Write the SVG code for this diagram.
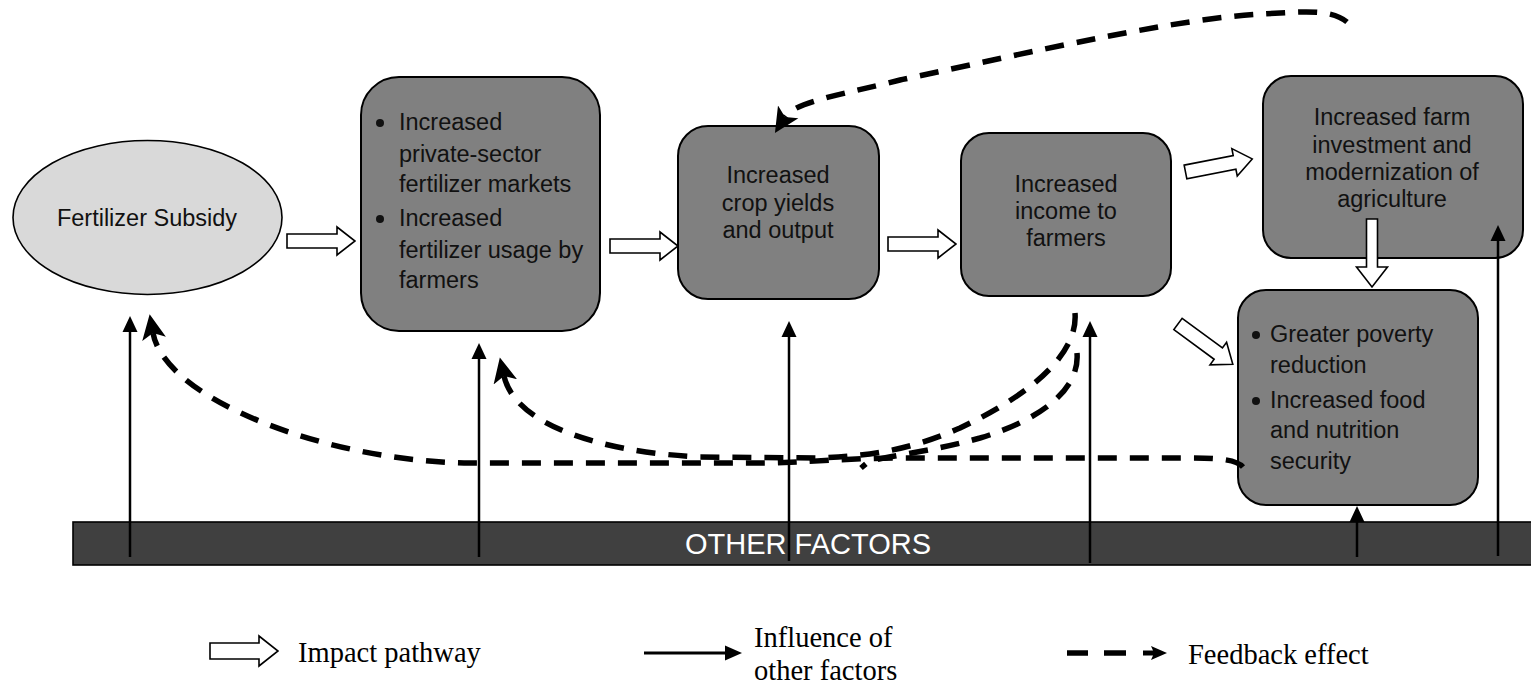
<svg xmlns="http://www.w3.org/2000/svg" xmlns:xlink="http://www.w3.org/1999/xlink" width="1531" height="686" viewBox="0 0 1531 686">
<style>
.box{fill:#808080;stroke:#000;stroke-width:2}
.t{font-family:"Liberation Sans",Arial,sans-serif;font-size:23.5px;fill:#111}
.c{text-anchor:middle}
.blk{fill:#fff;stroke:#000;stroke-width:1.6;stroke-linejoin:miter}
.fb{fill:none;stroke:#000;stroke-width:5.5;stroke-dasharray:19 13}
.inf{fill:none;stroke:#000;stroke-width:2.5}
.leg{font-family:"Liberation Serif","Times New Roman",serif;font-size:28.5px;fill:#000}
</style>
<defs>
<path id="harrow" d="M0,-7 L50,-7 L50,-14 L68,0 L50,14 L50,7 L0,7 Z"/>
<marker id="fbh" markerUnits="userSpaceOnUse" viewBox="0 -13 26 26" markerWidth="26" markerHeight="26" refX="6" refY="0" orient="auto">
<path d="M0,-12 L25,0 L0,12 L6,0 Z" fill="#000"/>
</marker>
<marker id="ih" markerUnits="userSpaceOnUse" viewBox="0 -8 16 16" markerWidth="16" markerHeight="16" refX="6" refY="0" orient="auto">
<path d="M0,-7.5 L16,0 L0,7.5 Z" fill="#000"/>
</marker>
</defs>
<rect width="1531" height="686" fill="#fff"/>

<g id="other-factors">
<rect x="73" y="522" width="1470" height="43" fill="#404040" stroke="#000" stroke-width="1.6"/>
<text x="808" y="554" font-family="Liberation Sans,Arial,sans-serif" font-size="29" fill="#fff" text-anchor="middle">OTHER FACTORS</text>
</g>

<g id="fertilizer-subsidy">
<ellipse cx="147.5" cy="217.5" rx="134.5" ry="77" fill="#d9d9d9" stroke="#000" stroke-width="1.6"/>
<text class="t c" x="147" y="226">Fertilizer Subsidy</text>
</g>

<g id="markets-usage">
<rect class="box" x="361" y="77" width="239" height="254" rx="38" ry="38"/>
<circle cx="380" cy="123" r="4" fill="#111"/>
<circle cx="380" cy="219" r="4" fill="#111"/>
<text class="t" x="399" y="130">Increased</text>
<text class="t" x="399" y="162">private-sector</text>
<text class="t" x="399" y="192">fertilizer markets</text>
<text class="t" x="399" y="226">Increased</text>
<text class="t" x="399" y="258">fertilizer usage by</text>
<text class="t" x="399" y="288">farmers</text>
</g>

<g id="crop-yields">
<rect class="box" x="678" y="126" width="201" height="173" rx="30" ry="30"/>
<text class="t c" x="778" y="183">Increased</text>
<text class="t c" x="778" y="211">crop yields</text>
<text class="t c" x="778" y="238">and output</text>
</g>

<g id="income">
<rect class="box" x="961" y="133" width="210" height="163" rx="28" ry="28"/>
<text class="t c" x="1066" y="192">Increased</text>
<text class="t c" x="1066" y="219">income to</text>
<text class="t c" x="1066" y="246">farmers</text>
</g>

<g id="investment">
<rect class="box" x="1263" y="76" width="260" height="182" rx="28" ry="28"/>
<text class="t c" x="1392" y="125">Increased farm</text>
<text class="t c" x="1392" y="153">investment and</text>
<text class="t c" x="1392" y="180">modernization of</text>
<text class="t c" x="1392" y="207">agriculture</text>
</g>

<g id="poverty-food">
<rect class="box" x="1238" y="290" width="240" height="215" rx="28" ry="28"/>
<circle cx="1256" cy="335" r="4" fill="#111"/>
<circle cx="1256" cy="401" r="4" fill="#111"/>
<text class="t" x="1270" y="342">Greater poverty</text>
<text class="t" x="1270" y="373">reduction</text>
<text class="t" x="1270" y="408">Increased food</text>
<text class="t" x="1270" y="438">and nutrition</text>
<text class="t" x="1270" y="469">security</text>
</g>

<g id="connectors">
<!-- impact pathway block arrows -->
<use xlink:href="#harrow" class="blk" transform="translate(287,241)"/>
<use xlink:href="#harrow" class="blk" transform="translate(610,246)"/>
<use xlink:href="#harrow" class="blk" transform="translate(888,244)"/>
<use xlink:href="#harrow" class="blk" transform="translate(1185.5,172) rotate(-11.1)"/>
<use xlink:href="#harrow" class="blk" transform="translate(1178,324) rotate(36.3)"/>
<path class="blk" d="M1366.5,219 L1377.5,219 L1377.5,267 L1387.5,267 L1372,287 L1356.5,267 L1366.5,267 Z"/>

<!-- influence of other factors -->
<line class="inf" x1="130" y1="557" x2="130" y2="326" marker-end="url(#ih)"/>
<line class="inf" x1="479" y1="557" x2="479" y2="353" marker-end="url(#ih)"/>
<line class="inf" x1="789" y1="561" x2="789" y2="331" marker-end="url(#ih)"/>
<line class="inf" x1="1090" y1="563" x2="1090" y2="331" marker-end="url(#ih)"/>
<line class="inf" x1="1357" y1="557" x2="1357" y2="516" marker-end="url(#ih)"/>
<line class="inf" x1="1498" y1="556" x2="1498" y2="235" marker-end="url(#ih)"/>

<!-- feedback effects -->
<path class="fb" d="M1347,22 C1330,8 1300,12 1262,14 C1180,18 1040,50 900,80 C850,93 795,101 785,117" marker-end="url(#fbh)"/>
<path class="fb" d="M1243,467 C1236,459 1215,458 1190,458 L900,458 C850,458 800,463 760,463 L470,463 C330,462 165,400 153,333" marker-end="url(#fbh)"/>
<path class="fb" d="M1075,313 C1078,350 1040,390 960,428 C910,450 870,456 820,458 L700,457 C600,452 515,425 504,376" marker-end="url(#fbh)"/>
<path class="fb" d="M1077,353 C1080,390 1040,420 980,438 C930,452 885,456 868,462 L861,468"/>
</g>

<g id="legend">
<path class="blk" d="M210,643 L259,643 L259,636 L278,651 L259,666 L259,659 L210,659 Z"/>
<text class="leg" x="298" y="662">Impact pathway</text>
<line x1="644" y1="653" x2="727" y2="653" stroke="#000" stroke-width="3"/>
<path d="M725,645.5 L742,653 L725,660.5 Z" fill="#000"/>
<text class="leg" x="754" y="647">Influence of</text>
<text class="leg" x="754" y="680">other factors</text>
<line x1="1067" y1="653" x2="1088" y2="653" stroke="#000" stroke-width="5.5"/>
<line x1="1104" y1="653" x2="1126" y2="653" stroke="#000" stroke-width="5.5"/>
<path d="M1143,650.5 L1153,650.5 L1151,646 L1167,653 L1151,660 L1153,655.5 L1143,655.5 Z" fill="#000"/>
<text class="leg" x="1188" y="664">Feedback effect</text>
</g>
</svg>
